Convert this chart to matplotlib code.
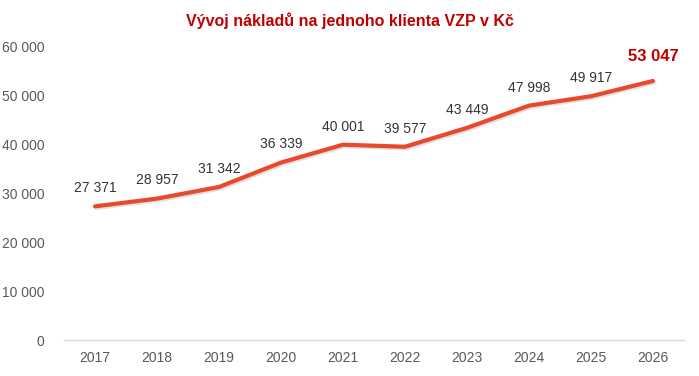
import matplotlib.pyplot as plt
import matplotlib.patheffects as pe

plt.rcParams['font.family'] = ['Liberation Sans', 'DejaVu Sans']

years = ['2017', '2018', '2019', '2020', '2021', '2022', '2023', '2024', '2025', '2026']
costs = [27371, 28957, 31342, 36339, 40001, 39577, 43449, 47998, 49917, 53047]
yticks = [0, 10000, 20000, 30000, 40000, 50000, 60000]


def fmt(v):
    return f"{v:,}".replace(',', ' ')


fig = plt.figure(figsize=(6.99, 3.76), dpi=100)
ax = fig.add_axes([0.0916, 0.0957, 0.8869, 0.7793])

x = range(len(years))
ax.plot(x, costs, color='#E8492A', linewidth=3, solid_capstyle='round',
        path_effects=[pe.SimpleLineShadow(offset=(1, -1.2), alpha=0.12),
                      pe.Normal()])

for i, v in enumerate(costs):
    if i == len(costs) - 1:
        ax.annotate(fmt(v), (i, v), xytext=(0, 12), textcoords='offset points',
                    ha='center', va='bottom', fontsize=12, fontweight='bold',
                    color='#C00000')
    else:
        ax.annotate(fmt(v), (i, v), xytext=(0, 8), textcoords='offset points',
                    ha='center', va='bottom', fontsize=10, color='#333333')

ax.set_xlim(-0.5, len(years) - 0.5)
ax.set_ylim(0, 60000)
ax.set_xticks(list(x))
ax.set_xticklabels(years)
ax.set_yticks(yticks)
ax.set_yticklabels([fmt(t) for t in yticks])
ax.tick_params(axis='both', length=0, labelsize=10, labelcolor='#595959')
ax.tick_params(axis='x', pad=8)
ax.tick_params(axis='y', pad=14)

for s in ['top', 'right', 'left']:
    ax.spines[s].set_visible(False)
ax.spines['bottom'].set_color('#D9D9D9')
ax.spines['bottom'].set_linewidth(1)

fig.text(0.5, 0.945, 'Vývoj nákladů na jednoho klienta VZP v Kč', ha='center',
         va='center', fontsize=11.5, fontweight='bold', color='#C00000')

fig.savefig('out.png', dpi=100)
